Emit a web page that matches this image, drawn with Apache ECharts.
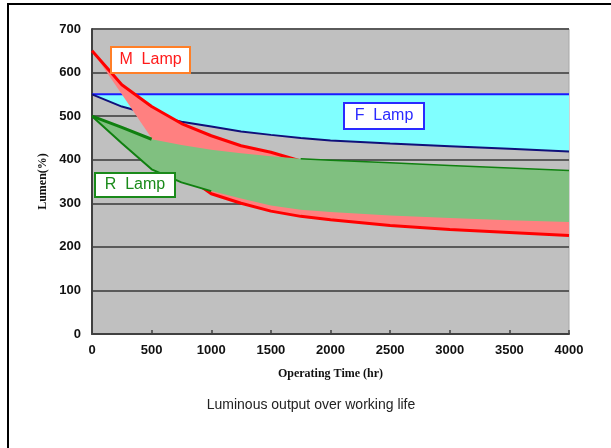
<!DOCTYPE html>
<html>
<head>
<meta charset="utf-8">
<script src="https://cdn.jsdelivr.net/npm/echarts@6/dist/echarts.min.js"></script>
<style>
html,body{margin:0;padding:0;background:#fff;}
#c{width:611px;height:448px;}
</style>
</head>
<body>
<div id="c"></div>
<script>
// ---- data ----
const hours  = [0, 250, 500, 750, 1000, 1250, 1500, 1750, 2000, 2500, 3000, 3500, 4000];
const fUpper = [550, 550, 550, 550, 550, 550, 550, 550, 550, 550, 550, 550, 550];
const fLower = [550, 522, 503, 487, 476, 465, 457, 450, 444, 437, 431, 425, 419];
const mUpper = [650, 572, 522, 483, 455, 432, 417, 397, 390, 378, 370, 362, 356];
const mLower = [650, 550, 449, 370, 322, 300, 282, 270, 262, 249, 240, 233, 226];
const rUpper = [500, 474, 447, 434, 423, 415, 408, 402, 399, 393, 387, 381, 375];
const rLower = [500, 438, 378, 348, 328, 311, 295, 285, 280, 272, 266, 261, 257];
const xTicks = [0, 500, 1000, 1500, 2000, 2500, 3000, 3500, 4000];
const yTicks = [0, 100, 200, 300, 400, 500, 600, 700];
const labels = {M: 'M  Lamp', F: 'F  Lamp', R: 'R  Lamp'};
const xName = 'Operating Time (hr)';
const yName = 'Lumen(%)';
const caption = 'Luminous output over working life';

// ---- helpers ----
// value first so that the stacked dimension is the y (value) dimension
const pairsVY = vals => hours.map((h, i) => [vals[i], h]);
const diff = (up, lo) => up.map((v, i) => v - lo[i]);
const part = (vals, lo, hi) => hours.map((h, i) => [(h >= lo && h <= hi) ? vals[i] : null, h]);

function band(stack, lower, upper, color, z) {
  return [
    {type: 'line', z: z, stack: stack, data: pairsVY(lower), encode: {x: 1, y: 0},
     showSymbol: false, silent: true, lineStyle: {width: 0, opacity: 0}},
    {type: 'line', z: z, stack: stack, data: pairsVY(diff(upper, lower)), encode: {x: 1, y: 0},
     showSymbol: false, silent: true, lineStyle: {width: 0, opacity: 0},
     areaStyle: {color: color, opacity: 1}}
  ];
}
function edge(data, color, width, z) {
  return {type: 'line', z: z, data: data, encode: {x: 1, y: 0}, showSymbol: false, silent: true,
          connectNulls: false, lineStyle: {color: color, width: width}};
}

const series = [].concat(
  band('F', fLower, fUpper, '#80ffff', 1),
  [edge(pairsVY(fUpper), '#1a1aff', 2, 2), edge(pairsVY(fLower), '#10107a', 2, 2)],
  band('M', mLower, mUpper, '#ff8080', 3),
  [edge(pairsVY(mUpper), '#ff0000', 3, 4), edge(part(mLower, 750, 4000), '#ff0000', 3, 4)],
  band('R', rLower, rUpper, '#80c080', 5),
  [edge(part(rUpper, 0, 500), '#108010', 3, 6), edge(part(rUpper, 1750, 4000), '#108010', 1.5, 6),
   edge(part(rLower, 0, 1000), '#108010', 2, 6)]
);

function boxLabel(x, y, w, h, text, stroke, color) {
  return {type: 'group', x: x, y: y, children: [
    {type: 'rect', z: 100, shape: {x: 0, y: 0, width: w, height: h},
     style: {fill: '#fff', stroke: stroke, lineWidth: 2}},
    {type: 'text', z: 101, x: w / 2, y: h / 2,
     style: {text: text, fill: color, font: '16px "Liberation Sans", Arial, sans-serif',
             align: 'center', verticalAlign: 'middle'}}
  ]};
}

const chart = echarts.init(document.getElementById('c'), null, {renderer: 'canvas'});
chart.setOption({
  animation: false,
  backgroundColor: '#fff',
  grid: {left: 92, right: 42, top: 29, bottom: 114, show: true,
         backgroundColor: '#c0c0c0', borderColor: '#a8a8a8', borderWidth: 1},
  xAxis: {
    type: 'value', min: 0, max: 4000, interval: 500,
    name: xName, nameLocation: 'middle', nameGap: 34,
    nameTextStyle: {fontFamily: '"Liberation Serif", serif', fontWeight: 'bold', fontSize: 12, color: '#111'},
    axisLine: {show: true, lineStyle: {color: '#404040', width: 2}},
    axisTick: {show: true, inside: true, length: 4, lineStyle: {color: '#404040', width: 1.5}},
    axisLabel: {color: '#111', fontFamily: '"Liberation Sans", Arial', fontWeight: 'bold', fontSize: 13, margin: 10,
                formatter: v => xTicks.includes(v) ? String(v) : ''},
    splitLine: {show: false}
  },
  yAxis: {
    type: 'value', min: 0, max: 700, interval: 100,
    name: yName, nameLocation: 'middle', nameGap: 37, nameRotate: 90,
    nameTextStyle: {fontFamily: '"Liberation Serif", serif', fontWeight: 'bold', fontSize: 12, color: '#111'},
    axisLine: {show: true, lineStyle: {color: '#404040', width: 2}},
    axisTick: {show: false},
    axisLabel: {color: '#111', fontFamily: '"Liberation Sans", Arial', fontWeight: 'bold', fontSize: 13, margin: 11,
                formatter: v => yTicks.includes(v) ? String(v) : ''},
    splitLine: {show: true, lineStyle: {color: '#5a5a5a', width: 2}}
  },
  series: series,
  graphic: [
    {type: 'rect', z: 200, shape: {x: 8, y: 4, width: 720, height: 520},
     style: {fill: 'none', stroke: '#000', lineWidth: 2}},
    boxLabel(111, 47, 79, 26, labels.M, '#ff7f27', '#ff1a1a'),
    boxLabel(344, 103, 80, 26, labels.F, '#2a2aff', '#2a2aff'),
    boxLabel(95, 173, 80, 24, labels.R, '#1a8a1a', '#1a8a1a'),
    {type: 'text', x: 311, y: 405, z: 100,
     style: {text: caption, fill: '#222', font: '14px "Liberation Sans", Arial, sans-serif',
             align: 'center', verticalAlign: 'middle'}}
  ]
});
</script>
</body>
</html>
